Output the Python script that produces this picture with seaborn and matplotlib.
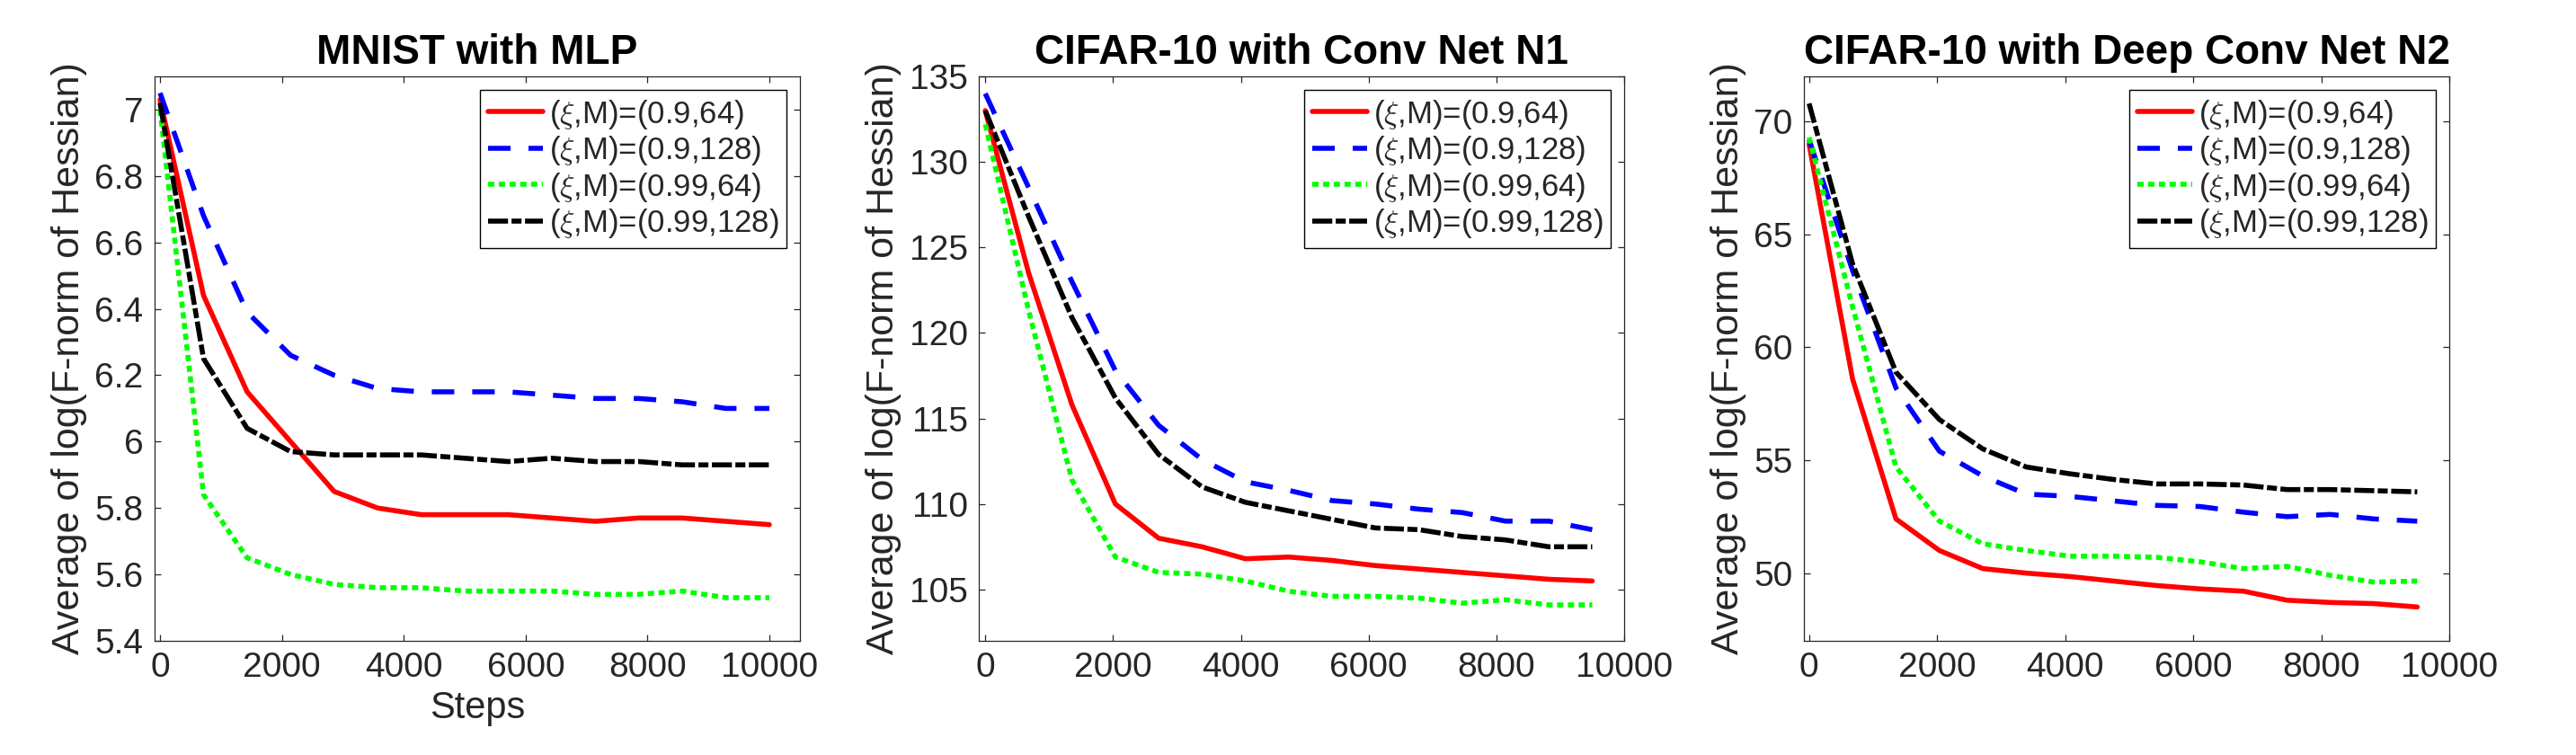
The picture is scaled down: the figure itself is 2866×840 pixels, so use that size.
import numpy as np
import pandas as pd
import matplotlib
matplotlib.use('Agg')
import matplotlib.pyplot as plt
from matplotlib.ticker import FuncFormatter
import seaborn as sns

# ---- data ----
steps_mlp = [0, 714, 1429, 2143, 2857, 3571, 4286, 5000, 5714, 6429, 7143, 7857, 8571, 9286, 10000]
steps_cnn = [0, 679, 1357, 2036, 2714, 3393, 4071, 4750, 5429, 6107, 6786, 7464, 8143, 8821, 9500]

mlp_09_64 = [7.03, 6.44, 6.15, 6.00, 5.85, 5.80, 5.78, 5.78, 5.78, 5.77, 5.76, 5.77, 5.77, 5.76, 5.75]
mlp_09_128 = [7.05, 6.68, 6.39, 6.26, 6.20, 6.16, 6.15, 6.15, 6.15, 6.14, 6.13, 6.13, 6.12, 6.10, 6.10]
mlp_099_64 = [7.00, 5.84, 5.65, 5.60, 5.57, 5.56, 5.56, 5.55, 5.55, 5.55, 5.54, 5.54, 5.55, 5.53, 5.53]
mlp_099_128 = [7.02, 6.25, 6.04, 5.97, 5.96, 5.96, 5.96, 5.95, 5.94, 5.95, 5.94, 5.94, 5.93, 5.93, 5.93]

n1_09_64 = [133.0, 123.5, 115.8, 110.0, 108.0, 107.5, 106.8, 106.9, 106.7, 106.4, 106.2, 106.0, 105.8, 105.6, 105.5]
n1_09_128 = [134.0, 128.5, 123.0, 117.8, 114.6, 112.6, 111.3, 110.8, 110.2, 110.0, 109.7, 109.5, 109.0, 109.0, 108.5]
n1_099_64 = [132.2, 121.3, 111.4, 106.9, 106.0, 105.9, 105.5, 104.9, 104.6, 104.6, 104.5, 104.2, 104.4, 104.1, 104.1]
n1_099_128 = [133.0, 126.8, 120.9, 116.2, 112.9, 111.0, 110.1, 109.6, 109.1, 108.6, 108.5, 108.1, 107.9, 107.5, 107.5]

n2_09_64 = [69.0, 58.6, 52.4, 51.0, 50.2, 50.0, 49.85, 49.65, 49.45, 49.3, 49.2, 48.8, 48.7, 48.65, 48.5]
n2_09_128 = [69.2, 63.4, 58.2, 55.4, 54.3, 53.5, 53.4, 53.2, 53.0, 52.95, 52.7, 52.5, 52.6, 52.4, 52.3]
n2_099_64 = [69.3, 61.8, 54.7, 52.3, 51.3, 51.0, 50.75, 50.75, 50.7, 50.5, 50.2, 50.3, 49.9, 49.6, 49.65]
n2_099_128 = [70.8, 63.7, 58.9, 56.8, 55.5, 54.7, 54.4, 54.15, 53.95, 53.95, 53.9, 53.7, 53.7, 53.65, 53.6]

titles = ['MNIST with MLP', 'CIFAR-10 with Conv Net N1', 'CIFAR-10 with Deep Conv Net N2']
labels = [r'($\xi$,M)=(0.9,64)', r'($\xi$,M)=(0.9,128)',
          r'($\xi$,M)=(0.99,64)', r'($\xi$,M)=(0.99,128)']

panels = [
    (steps_mlp, [mlp_09_64, mlp_09_128, mlp_099_64, mlp_099_128]),
    (steps_cnn, [n1_09_64, n1_09_128, n1_099_64, n1_099_128]),
    (steps_cnn, [n2_09_64, n2_09_128, n2_099_64, n2_099_128]),
]

# ---- style ----
sns.set_style('ticks')
plt.rcParams['font.family'] = ['Liberation Sans', 'DejaVu Sans']
plt.rcParams['mathtext.fontset'] = 'cm'

cores = ['#FF0000', '#0000FF', '#00FF00', '#000000']
tracos = [None, (4.5, 3.6), (1.25, 0.9), (4.0, 0.7, 2.0, 0.7)]
eixo_cor = '#262626'

xlims = [(-90, 10500), (-100, 10000), (-80, 10000)]
ylims = [(5.4, 7.1), (102, 135), (47, 72)]
yticks = [np.arange(5.4, 7.01, 0.2), np.arange(105, 136, 5), np.arange(50, 71, 5)]
lefts = [0.0600, 0.3800, 0.7003]

fig = plt.figure(figsize=(28.66, 8.4), dpi=100)

for i, (steps, series) in enumerate(panels):
    ax = fig.add_axes([lefts[i], 0.1512, 0.2505, 0.7476])
    for vals, cor, traco, lbl in zip(series, cores, tracos, labels):
        sns.lineplot(x=steps, y=vals, ax=ax, color=cor, linewidth=4, label=lbl)
        if traco is not None:
            ax.lines[-1].set_dashes(traco)

    ax.set_xlim(*xlims[i])
    ax.set_ylim(*ylims[i])
    ax.set_xticks(range(0, 10001, 2000))
    ax.set_yticks(yticks[i])
    ax.yaxis.set_major_formatter(FuncFormatter(lambda v, p: f'{v:g}'))
    ax.tick_params(direction='in', top=True, right=True, length=5, width=0.9,
                   colors=eixo_cor, labelsize=28)
    ax.tick_params(axis='x', pad=9)
    ax.tick_params(axis='y', pad=9)
    for sp in ax.spines.values():
        sp.set_visible(True)
        sp.set_linewidth(0.9)
        sp.set_color(eixo_cor)

    ax.set_title(titles[i], fontsize=33, fontweight='bold', pad=10, color='black')
    ax.set_ylabel('Average of log(F-norm of Hessian)', fontsize=31, color=eixo_cor, labelpad=6)
    if i == 0:
        ax.set_xlabel('Steps', fontsize=30, color=eixo_cor, labelpad=5)
    else:
        ax.set_xlabel('')

    leg = ax.legend(loc='upper right', fontsize=25, frameon=True, fancybox=False,
                    framealpha=1, edgecolor='black', handlelength=1.75,
                    handletextpad=0.2, labelspacing=0.1, borderaxespad=0.43,
                    borderpad=0.25)
    leg.get_frame().set_linewidth(1.0)

fig.savefig('out.png', dpi=100)
